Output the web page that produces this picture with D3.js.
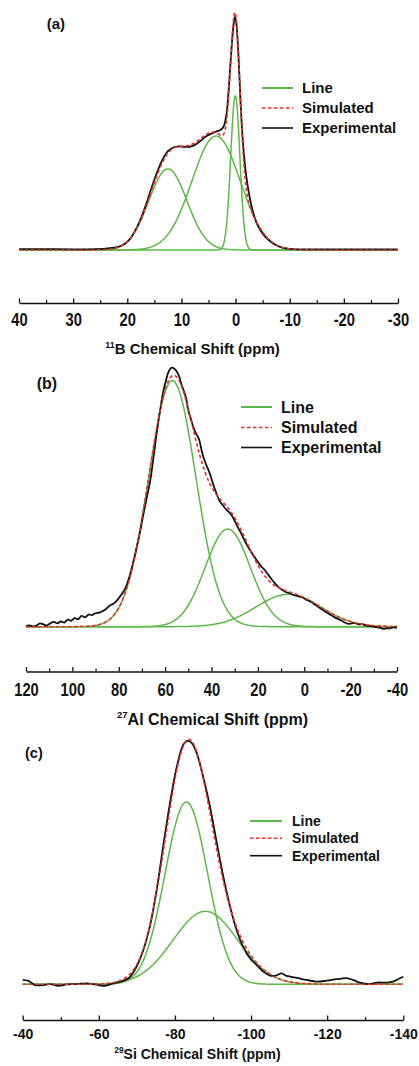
<!DOCTYPE html>
<html>
<head>
<meta charset="utf-8">
<script src="https://cdn.jsdelivr.net/npm/d3@7"></script>
<style>
  html, body { margin: 0; padding: 0; background: #fff; }
  svg { display: block; font-family: "Liberation Sans", Arial, Helvetica, sans-serif; font-weight: bold; }
</style>
</head>
<body>
<svg id="chart" width="419" height="1066"></svg>
<script>
// ---------- (a) 11B spectrum ----------
const ticksA = [40, 30, 20, 10, 0, -10, -20, -30];
const minorA = [35, 25, 15, 5, -5, -15, -25];
const centersA = [12.5, 3.6, 0.05];     // ppm
const heightsA = [0.348, 0.489, 0.661]; // normalised intensity
const widthsA  = [8.3, 10.5, 2.0];      // FWHM, ppm
const expA = [
  [40,0.004],[35,0.004],[30,0.003],[26,0.004],[24,0.006],[22.5,0.010],[21.5,0.015],[20.5,0.026],
  [19.5,0.047],[18.5,0.085],[17.5,0.135],[16.5,0.198],[15.5,0.268],[14.5,0.333],[13.5,0.388],
  [12.5,0.424],[11.5,0.440],[10.5,0.445],[9.5,0.443],[8.5,0.443],[7.5,0.451],[6.5,0.468],
  [5.5,0.487],[4.5,0.499],[3.5,0.509],[2.8,0.515],[2.2,0.530],[1.7,0.580],[1.3,0.680],[1.0,0.780],
  [0.7,0.880],[0.4,0.960],[0.15,1.0],[-0.1,0.980],[-0.4,0.890],[-0.7,0.750],[-1.0,0.600],
  [-1.4,0.450],[-1.9,0.330],[-2.5,0.240],[-3.2,0.165],[-4.0,0.110],[-5.0,0.070],[-6.0,0.045],
  [-7.0,0.027],[-8.0,0.015],[-9.0,0.008],[-10.5,0.004],[-12,0.003],[-20,0.003],[-30,0.003]
];

// ---------- (b) 27Al spectrum ----------
const ticksB = [120, 100, 80, 60, 40, 20, 0, -20, -40];
const minorB = [110, 90, 70, 50, 30, 10, -10, -30];
const centersB = [56.9, 33.0, 6.9];
const heightsB = [0.950, 0.377, 0.125];
const widthsB  = [24.0, 23.0, 33.0];
const expB = [
  [120,0.002],[118.5,0.005],[117,0.001],[115.5,0.004],[114,0.013],[112.5,0.009],[111,0.005],
  [109.5,0.013],[108,0.019],[106.5,0.013],[105,0.020],[103.5,0.016],[102,0.027],[100.5,0.023],
  [99,0.033],[97.5,0.029],[96,0.042],[94.5,0.036],[93,0.047],[91.5,0.045],[90,0.052],[88.5,0.054],
  [87,0.060],[85.5,0.068],[84,0.081],[82.5,0.088],[81,0.099],[79.5,0.116],[78,0.135],[77,0.152],
  [75.5,0.190],[74,0.240],[72.5,0.298],[71,0.358],[69.5,0.428],[68,0.495],[66.5,0.560],[65,0.655],
  [63.5,0.757],[62,0.845],[60.8,0.907],[59.5,0.955],[58.5,0.985],[57.2,1.0],[56,0.996],[55,0.985],
  [54,0.968],[53,0.936],[52,0.912],[51,0.884],[50,0.835],[49,0.805],[48,0.775],[47,0.752],
  [46,0.735],[45.3,0.722],[44.5,0.690],[43.5,0.655],[42.5,0.630],[41,0.598],[39.5,0.556],
  [38,0.518],[36.5,0.485],[35,0.468],[33.5,0.451],[32,0.438],[30.5,0.418],[29,0.390],[27.5,0.365],
  [26,0.338],[24.5,0.312],[23,0.290],[21.5,0.270],[20,0.250],[18.5,0.232],[17,0.218],[15.5,0.200],
  [14,0.182],[12.5,0.166],[11,0.152],[9.5,0.143],[8,0.134],[6.5,0.130],[5,0.124],[3.5,0.120],
  [2,0.116],[0.5,0.112],[-1,0.103],[-2.5,0.098],[-4,0.090],[-5.5,0.080],[-7,0.070],[-8.5,0.062],
  [-10,0.053],[-11.5,0.045],[-13,0.037],[-14.5,0.030],[-16,0.024],[-17.5,0.016],[-19,0.011],
  [-20.5,0.013],[-22,0.014],[-23.5,0.009],[-25,0.010],[-26.5,0.005],[-28,0.002],[-29.5,0.001],
  [-31,-0.002],[-32.5,-0.004],[-34,-0.008],[-35.5,-0.006],[-37,-0.006],[-38.5,-0.003],[-40,-0.004]
];

// ---------- (c) 29Si spectrum ----------
const ticksC = [-40, -60, -80, -100, -120, -140];
const minorC = [-50, -70, -90, -110, -130];
const centersC = [-83.0, -88.0];
const heightsC = [0.749, 0.300];
const widthsC  = [13.2, 20.0];
const expC = [
  [-40,0.018],[-41.5,0.014],[-43.2,-0.003],[-45.4,-0.003],[-47.2,0.001],[-49.4,-0.006],[-51.6,0.0],
  [-54.2,0.001],[-56.8,0.004],[-58.5,0.001],[-60.3,-0.004],[-61.6,-0.006],[-63.8,0.004],[-65.6,0.011],
  [-67,0.018],[-68.2,0.031],[-69.9,0.072],[-71.7,0.141],[-73.4,0.237],[-75.2,0.388],[-76.9,0.566],
  [-78.7,0.745],[-80.5,0.895],[-82.2,0.985],[-83.2,1.0],[-84.4,0.992],[-85.7,0.951],[-87.4,0.854],
  [-89.2,0.731],[-91.0,0.580],[-92.7,0.443],[-94.5,0.319],[-96.2,0.223],[-97.9,0.155],[-99.7,0.107],
  [-101.5,0.079],[-103.2,0.052],[-105.0,0.036],[-106.5,0.036],[-108,0.045],[-109.3,0.035],
  [-110.5,0.031],[-112.4,0.025],[-114.6,0.018],[-117.2,0.011],[-119.9,0.015],[-122.5,0.021],
  [-125.1,0.025],[-126.8,0.018],[-128.6,0.007],[-131.2,0.001],[-133,0.007],[-135.6,0.007],
  [-137.3,0.011],[-139.1,0.025],[-140,0.031]
];

const legendLabels = ["Line", "Simulated", "Experimental"];

const GREEN = "#5cb848";
const RED = "#e8302c";
const BLACK = "#111";

// Panel layout
const panels = [
  { tag: "(a)", sup: "11", nucleus: "B", ticks: ticksA, minor: minorA,
    centers: centersA, heights: heightsA, widths: widthsA, exp: expA, step: 0.05,
    xRange: [19, 398], base: 250, top: 17, axisY: 303,
    tickFont: 18, narrow: 0.82, pad: 10.7,
    title: { x: 192.5, y: 354, size: 15 }, tagPos: { x: 46.7, y: 29, size: 15 },
    legend: { x: 262, ys: [88, 108, 128], size: 15, len: 31, gap: 9 } },
  { tag: "(b)", sup: "27", nucleus: "Al", ticks: ticksB, minor: minorB,
    centers: centersB, heights: heightsB, widths: widthsB, exp: expB, step: 0.2,
    xRange: [26, 397], base: 626.7, top: 367.7, axisY: 671.5,
    tickFont: 18, narrow: 0.82, pad: 11.7,
    title: { x: 212.5, y: 725, size: 16 }, tagPos: { x: 36.7, y: 388.5, size: 16 },
    legend: { x: 241, ys: [407, 427.5, 447.5], size: 16, len: 31, gap: 9 } },
  { tag: "(c)", sup: "29", nucleus: "Si", ticks: ticksC, minor: minorC,
    centers: centersC, heights: heightsC, widths: widthsC, exp: expC, step: 0.1,
    xRange: [22.7, 403.3], base: 984.3, top: 741, axisY: 1020,
    tickFont: 14, narrow: 1, pad: 9.4,
    title: { x: 197.5, y: 1058.5, size: 14 }, tagPos: { x: 25, y: 757.5, size: 14.5 },
    legend: { x: 250, ys: [821, 838.3, 855.7], size: 14, len: 32, gap: 10 } }
];

const svg = d3.select("#chart");

// Gaussian line shape defined by centre, height and full width at half maximum
function lineShape(c, h, w) {
  const k = 4 * Math.LN2 / (w * w);
  return ppm => h * Math.exp(-k * (ppm - c) * (ppm - c));
}

panels.forEach(p => {
  const dom = [p.ticks[0], p.ticks[p.ticks.length - 1]];
  const x = d3.scaleLinear().domain(dom).range(p.xRange);
  const y = d3.scaleLinear().domain([0, 1]).range([p.base, p.top]);
  const g = svg.append("g");

  // ppm grid for the fitted components
  const grid = d3.range(dom[0], dom[1] - p.step / 2, -p.step);
  const shapes = p.centers.map((c, i) => lineShape(c, p.heights[i], p.widths[i]));
  const comps = shapes.map(f => grid.map(v => [v, f(v)]));
  const sim = grid.map(v => [v, d3.sum(shapes, f => f(v))]);

  const line = d3.line().x(d => x(d[0])).y(d => y(d[1]));
  const expLine = d3.line().x(d => x(d[0])).y(d => y(d[1])).curve(d3.curveCatmullRom.alpha(0.5));

  comps.forEach(cd => {
    g.append("path").attr("d", line(cd)).attr("fill", "none")
      .attr("stroke", GREEN).attr("stroke-width", 1.5);
  });
  g.append("path").attr("d", expLine(p.exp)).attr("fill", "none")
    .attr("stroke", BLACK).attr("stroke-width", 1.8).attr("stroke-linejoin", "round");
  g.append("path").attr("d", line(sim)).attr("fill", "none")
    .attr("stroke", RED).attr("stroke-width", 1.6).attr("stroke-dasharray", "3.5,2.5");

  // x axis: major ticks with labels, minor ticks between, all pointing up
  const axis = d3.axisBottom(x).tickValues(p.ticks).tickFormat(d => String(d))
    .tickSizeInner(-4.5).tickSizeOuter(0).tickPadding(p.pad);
  const ax = g.append("g").attr("transform", `translate(0,${p.axisY})`).call(axis);
  ax.select(".domain").attr("stroke", BLACK).attr("stroke-width", 1.4);
  ax.selectAll(".tick line").attr("stroke", BLACK).attr("stroke-width", 1.3);
  ax.selectAll(".tick text")
    .attr("fill", BLACK)
    .style("font-family", '"Liberation Sans", Arial, sans-serif')
    .style("font-weight", "bold")
    .style("font-size", p.tickFont + "px")
    .attr("transform", `scale(${p.narrow},1)`);

  const minorAxis = d3.axisBottom(x).tickValues(p.minor).tickFormat("")
    .tickSizeInner(-3).tickSizeOuter(0);
  const mx = g.append("g").attr("transform", `translate(0,${p.axisY})`).call(minorAxis);
  mx.select(".domain").remove();
  mx.selectAll(".tick line").attr("stroke", BLACK).attr("stroke-width", 1.2);

  // axis title with nucleus superscript
  const t = g.append("text").attr("x", p.title.x).attr("y", p.title.y)
    .attr("text-anchor", "middle").attr("font-size", p.title.size).attr("fill", BLACK);
  t.append("tspan").text(p.sup).attr("font-size", p.title.size * 0.6).attr("dy", -p.title.size * 0.42);
  t.append("tspan").text(p.nucleus + " Chemical Shift (ppm)").attr("dy", p.title.size * 0.42);

  // panel tag
  g.append("text").attr("x", p.tagPos.x).attr("y", p.tagPos.y)
    .attr("font-size", p.tagPos.size).attr("fill", BLACK).text(p.tag);

  // legend
  const L = p.legend;
  const styles = [
    { stroke: GREEN, w: 2, dash: null },
    { stroke: RED, w: 1.6, dash: "3.5,2.5" },
    { stroke: BLACK, w: 1.6, dash: null }
  ];
  legendLabels.forEach((lab, i) => {
    const yy = L.ys[i];
    g.append("line").attr("x1", L.x).attr("x2", L.x + L.len).attr("y1", yy).attr("y2", yy)
      .attr("stroke", styles[i].stroke).attr("stroke-width", styles[i].w)
      .attr("stroke-dasharray", styles[i].dash);
    g.append("text").attr("x", L.x + L.len + L.gap).attr("y", yy + L.size * 0.36)
      .attr("font-size", L.size).attr("fill", BLACK).text(lab);
  });
});
</script>
</body>
</html>
